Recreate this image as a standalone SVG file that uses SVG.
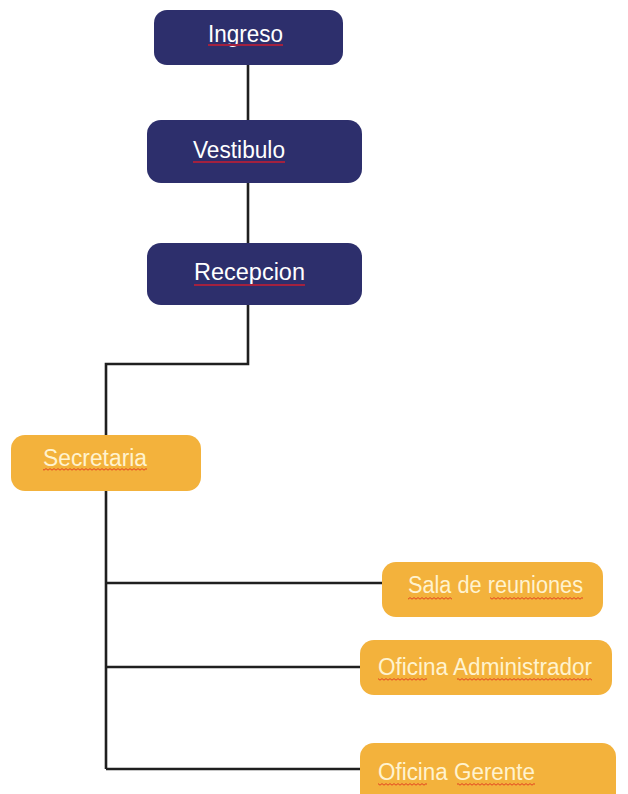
<svg xmlns="http://www.w3.org/2000/svg" width="628" height="794" viewBox="0 0 628 794">
<style>
.dark{fill:#2d2f6c}
.org{fill:#f3b23c}
.lt{font-family:"Liberation Sans",Arial,sans-serif;font-size:23.5px;fill:#ffffff}
.ot{font-family:"Liberation Sans",Arial,sans-serif;font-size:23.5px;fill:#fff3cf}
.conn{stroke:#1f1f1f;stroke-width:2.6;fill:none}
.ul{stroke:#a3213f;stroke-width:2;fill:none}
.wv{fill:url(#wave)}
</style>
<defs>
<pattern id="wave" width="4" height="3" patternUnits="userSpaceOnUse">
<path d="M0 2.2 L2 0.6 L4 2.2" stroke="#e0341c" stroke-width="0.9" fill="none"/>
</pattern>
</defs>
<rect width="628" height="794" fill="#ffffff"/>
<g id="connectors">
<path class="conn" d="M248 65 V120"/>
<path class="conn" d="M248 183 V243"/>
<path class="conn" d="M248 305 V364 H106 V435"/>
<path class="conn" d="M106 490 V769"/>
<path class="conn" d="M106 583 H383"/>
<path class="conn" d="M106 667 H361"/>
<path class="conn" d="M106 769 H361"/>
</g>
<g id="ingreso">
<rect class="dark" x="154" y="10" width="189" height="55" rx="13"/>
<text class="lt" x="208" y="42" textLength="75" lengthAdjust="spacingAndGlyphs">Ingreso</text>
<path class="ul" d="M208 45 H283"/>
</g>
<g id="vestibulo">
<rect class="dark" x="147" y="120" width="215" height="63" rx="14"/>
<text class="lt" x="193" y="158" textLength="92" lengthAdjust="spacingAndGlyphs">Vestibulo</text>
<path class="ul" d="M193 162 H285"/>
</g>
<g id="recepcion">
<rect class="dark" x="147" y="243" width="215" height="62" rx="14"/>
<text class="lt" x="194" y="280" textLength="111" lengthAdjust="spacingAndGlyphs">Recepcion</text>
<path class="ul" d="M194 285 H305"/>
</g>
<g id="secretaria">
<rect class="org" x="11" y="435" width="190" height="56" rx="14"/>
<text class="ot" x="43" y="466" textLength="104" lengthAdjust="spacingAndGlyphs">Secretaria</text>
<rect class="wv" x="43" y="468" width="104" height="3"/>
</g>
<g id="sala">
<rect class="org" x="382" y="562" width="221" height="55" rx="14"/>
<text class="ot" x="408" y="593" textLength="175" lengthAdjust="spacingAndGlyphs">Sala de reuniones</text>
<rect class="wv" x="408" y="597" width="44" height="3"/>
<rect class="wv" x="490" y="597" width="93" height="3"/>
</g>
<g id="administrador">
<rect class="org" x="360" y="640" width="252" height="55" rx="14"/>
<text class="ot" x="378" y="675" textLength="214" lengthAdjust="spacingAndGlyphs">Oficina Administrador</text>
<rect class="wv" x="378" y="678" width="49" height="3"/>
<rect class="wv" x="457" y="678" width="135" height="3"/>
</g>
<g id="gerente">
<rect class="org" x="360" y="743" width="256" height="70" rx="14"/>
<text class="ot" x="378" y="780" textLength="157" lengthAdjust="spacingAndGlyphs">Oficina Gerente</text>
<rect class="wv" x="378" y="783" width="49" height="3"/>
<rect class="wv" x="457" y="783" width="78" height="3"/>
</g>
</svg>
